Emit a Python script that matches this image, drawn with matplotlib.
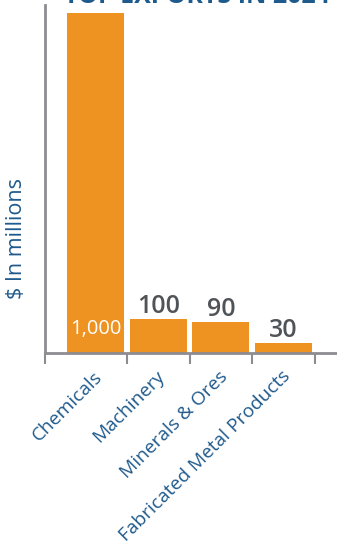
import matplotlib.pyplot as plt

categories = ['Chemicals', 'Machinery', 'Minerals & Ores', 'Fabricated Metal Products']
values = [1000, 100, 90, 30]
value_labels = ['1,000', '100', '90', '30']

bar_color = '#EE9322'
blue = '#1F5A8C'
axis_gray = '#8C8C92'

plt.rcParams['font.family'] = ['Open Sans', 'DejaVu Sans']

fig = plt.figure(figsize=(3.37, 5.5), dpi=100)
ax = fig.add_axes([45 / 337, 197 / 550, 292 / 337, 348 / 550])

x = list(range(len(categories)))
bars = ax.bar(x, values, width=0.91, color=bar_color, zorder=2)

ax.set_xlim(-0.805, 3.85)
ax.set_ylim(0, 1023)

# value labels: first one inside the bar in white, rest above
for i, (b, lab) in enumerate(zip(bars, value_labels)):
    cx = b.get_x() + b.get_width() / 2
    if i == 0:
        ax.text(cx, 70, lab, ha='center', va='center',
                color='white', fontsize=14.5)
    else:
        ax.annotate(lab, xy=(cx, b.get_height()), xytext=(0, 4.5),
                    textcoords='offset points', ha='center', va='baseline',
                    color='#4F5459', fontsize=18, fontweight='semibold')

for side in ['top', 'right']:
    ax.spines[side].set_visible(False)
for side in ['left', 'bottom']:
    ax.spines[side].set_color(axis_gray)
    ax.spines[side].set_linewidth(2)

ax.set_yticks([])
# ticks sit on category boundaries
ax.set_xticks([-0.805, 0.5, 1.5, 2.5, 3.5])
ax.set_xticklabels([])
ax.tick_params(axis='x', length=8, width=1.5, color=axis_gray)

for xi, cat in zip(x, categories):
    ax.annotate(cat, xy=(xi, 0), xycoords=('data', 'axes fraction'),
                xytext=(3, -15), textcoords='offset points',
                rotation=45, rotation_mode='anchor', ha='right', va='center',
                color=blue, fontsize=13.8)

ax.set_ylabel('$ In millions', color=blue, fontsize=15.5)
ax.yaxis.set_label_coords(-0.06, 0.33)

fig.text(0.585, 1.0 + 0.006, 'TOP EXPORTS IN 2024', ha='center', va='center',
         color=blue, fontsize=18, fontweight='bold')

plt.savefig('out.png', dpi=100)
